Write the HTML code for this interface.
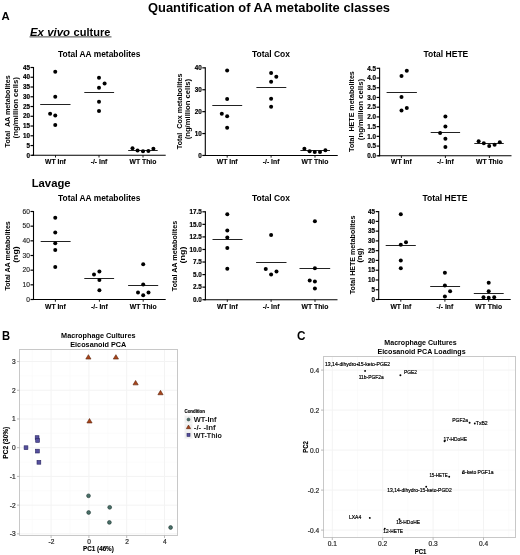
<!DOCTYPE html>
<html><head><meta charset="utf-8"><style>
html,body{margin:0;padding:0;background:#fff;}
svg{display:block;font-family:"Liberation Sans", sans-serif;will-change:transform;}
</style></head><body>
<svg width="520" height="555" viewBox="0 0 520 555">
<rect width="520" height="555" fill="#fff"/>
<text x="148.00" y="12.40" font-size="13" text-anchor="start" font-weight="bold" fill="#000" textLength="242.00" lengthAdjust="spacingAndGlyphs" >Quantification of AA metabolite classes</text>
<text x="1.60" y="19.85" font-size="11.5" text-anchor="start" font-weight="bold" fill="#000" textLength="8.20" lengthAdjust="spacingAndGlyphs" >A</text>
<text x="30.00" y="36.20" font-size="11" text-anchor="start" font-weight="bold" fill="#000" font-style="italic" textLength="40.00" lengthAdjust="spacingAndGlyphs" >Ex vivo</text>
<text x="73.60" y="36.20" font-size="11" text-anchor="start" font-weight="bold" fill="#000" textLength="36.80" lengthAdjust="spacingAndGlyphs" >culture</text>
<line x1="29.50" y1="36.90" x2="111.50" y2="36.90" stroke="#333" stroke-width="0.9"/>
<text x="31.70" y="186.50" font-size="11.2" text-anchor="start" font-weight="bold" fill="#000" textLength="38.90" lengthAdjust="spacingAndGlyphs" >Lavage</text>
<line x1="33.50" y1="67.00" x2="33.50" y2="155.80" stroke="#000" stroke-width="1.1"/>
<line x1="32.00" y1="155.30" x2="165.70" y2="155.30" stroke="#000" stroke-width="1.1"/>
<line x1="30.50" y1="155.30" x2="33.50" y2="155.30" stroke="#000" stroke-width="1.2"/>
<text x="29.90" y="157.50" font-size="6.3" text-anchor="end" font-weight="bold" fill="#000" stroke="#000" stroke-width="0.2">0</text>
<line x1="30.50" y1="145.54" x2="33.50" y2="145.54" stroke="#000" stroke-width="1.2"/>
<text x="29.90" y="147.74" font-size="6.3" text-anchor="end" font-weight="bold" fill="#000" stroke="#000" stroke-width="0.2">5</text>
<line x1="30.50" y1="135.79" x2="33.50" y2="135.79" stroke="#000" stroke-width="1.2"/>
<text x="29.90" y="137.99" font-size="6.3" text-anchor="end" font-weight="bold" fill="#000" stroke="#000" stroke-width="0.2">10</text>
<line x1="30.50" y1="126.03" x2="33.50" y2="126.03" stroke="#000" stroke-width="1.2"/>
<text x="29.90" y="128.23" font-size="6.3" text-anchor="end" font-weight="bold" fill="#000" stroke="#000" stroke-width="0.2">15</text>
<line x1="30.50" y1="116.28" x2="33.50" y2="116.28" stroke="#000" stroke-width="1.2"/>
<text x="29.90" y="118.48" font-size="6.3" text-anchor="end" font-weight="bold" fill="#000" stroke="#000" stroke-width="0.2">20</text>
<line x1="30.50" y1="106.52" x2="33.50" y2="106.52" stroke="#000" stroke-width="1.2"/>
<text x="29.90" y="108.72" font-size="6.3" text-anchor="end" font-weight="bold" fill="#000" stroke="#000" stroke-width="0.2">25</text>
<line x1="30.50" y1="96.77" x2="33.50" y2="96.77" stroke="#000" stroke-width="1.2"/>
<text x="29.90" y="98.97" font-size="6.3" text-anchor="end" font-weight="bold" fill="#000" stroke="#000" stroke-width="0.2">30</text>
<line x1="30.50" y1="87.01" x2="33.50" y2="87.01" stroke="#000" stroke-width="1.2"/>
<text x="29.90" y="89.21" font-size="6.3" text-anchor="end" font-weight="bold" fill="#000" stroke="#000" stroke-width="0.2">35</text>
<line x1="30.50" y1="77.26" x2="33.50" y2="77.26" stroke="#000" stroke-width="1.2"/>
<text x="29.90" y="79.46" font-size="6.3" text-anchor="end" font-weight="bold" fill="#000" stroke="#000" stroke-width="0.2">40</text>
<line x1="30.50" y1="67.50" x2="33.50" y2="67.50" stroke="#000" stroke-width="1.2"/>
<text x="29.90" y="69.70" font-size="6.3" text-anchor="end" font-weight="bold" fill="#000" stroke="#000" stroke-width="0.2">45</text>
<line x1="55.50" y1="155.30" x2="55.50" y2="157.50" stroke="#000" stroke-width="0.9"/>
<text x="55.50" y="164.00" font-size="6.8" text-anchor="middle" font-weight="bold" fill="#000" stroke="#000" stroke-width="0.12">WT Inf</text>
<line x1="99.00" y1="155.30" x2="99.00" y2="157.50" stroke="#000" stroke-width="0.9"/>
<text x="99.00" y="164.00" font-size="6.8" text-anchor="middle" font-weight="bold" fill="#000" stroke="#000" stroke-width="0.12">-/- Inf</text>
<line x1="143.00" y1="155.30" x2="143.00" y2="157.50" stroke="#000" stroke-width="0.9"/>
<text x="143.00" y="164.00" font-size="6.8" text-anchor="middle" font-weight="bold" fill="#000" stroke="#000" stroke-width="0.12">WT Thio</text>
<line x1="40.20" y1="104.50" x2="70.50" y2="104.50" stroke="#222" stroke-width="1"/>
<circle cx="55.25" cy="71.80" r="2.0" fill="#000" stroke="none" stroke-width="0"/>
<circle cx="55.25" cy="96.70" r="2.0" fill="#000" stroke="none" stroke-width="0"/>
<circle cx="50.10" cy="113.65" r="2.0" fill="#000" stroke="none" stroke-width="0"/>
<circle cx="55.25" cy="115.40" r="2.0" fill="#000" stroke="none" stroke-width="0"/>
<circle cx="55.25" cy="125.10" r="2.0" fill="#000" stroke="none" stroke-width="0"/>
<line x1="84.30" y1="92.50" x2="114.10" y2="92.50" stroke="#222" stroke-width="1"/>
<circle cx="99.00" cy="77.80" r="2.0" fill="#000" stroke="none" stroke-width="0"/>
<circle cx="104.60" cy="83.40" r="2.0" fill="#000" stroke="none" stroke-width="0"/>
<circle cx="99.00" cy="87.70" r="2.0" fill="#000" stroke="none" stroke-width="0"/>
<circle cx="99.00" cy="101.70" r="2.0" fill="#000" stroke="none" stroke-width="0"/>
<circle cx="99.00" cy="111.05" r="2.0" fill="#000" stroke="none" stroke-width="0"/>
<line x1="128.20" y1="150.50" x2="157.70" y2="150.50" stroke="#222" stroke-width="1"/>
<circle cx="132.50" cy="148.30" r="2.0" fill="#000" stroke="none" stroke-width="0"/>
<circle cx="137.55" cy="150.50" r="2.0" fill="#000" stroke="none" stroke-width="0"/>
<circle cx="143.00" cy="151.30" r="2.0" fill="#000" stroke="none" stroke-width="0"/>
<circle cx="148.40" cy="150.90" r="2.0" fill="#000" stroke="none" stroke-width="0"/>
<circle cx="153.40" cy="148.75" r="2.0" fill="#000" stroke="none" stroke-width="0"/>
<text x="99.25" y="57.30" font-size="8.4" text-anchor="middle" font-weight="bold" fill="#000" textLength="82.30" lengthAdjust="spacingAndGlyphs" >Total AA metabolites</text>
<text x="10.20" y="111.35" font-size="8.0" text-anchor="middle" font-weight="bold" fill="#000" textLength="72.10" lengthAdjust="spacingAndGlyphs" transform="rotate(-90 10.20 111.35)" >Total&#160; AA metabolites</text>
<text x="18.00" y="107.75" font-size="7.6" text-anchor="middle" font-weight="bold" fill="#000" textLength="61.30" lengthAdjust="spacingAndGlyphs" transform="rotate(-90 18.00 107.75)" >(ng/million cells)</text>
<line x1="205.30" y1="67.35" x2="205.30" y2="155.95" stroke="#000" stroke-width="1.1"/>
<line x1="203.80" y1="155.45" x2="337.75" y2="155.45" stroke="#000" stroke-width="1.1"/>
<line x1="202.30" y1="155.45" x2="205.30" y2="155.45" stroke="#000" stroke-width="1.2"/>
<text x="201.70" y="157.65" font-size="6.3" text-anchor="end" font-weight="bold" fill="#000" stroke="#000" stroke-width="0.2">0</text>
<line x1="202.30" y1="133.55" x2="205.30" y2="133.55" stroke="#000" stroke-width="1.2"/>
<text x="201.70" y="135.75" font-size="6.3" text-anchor="end" font-weight="bold" fill="#000" stroke="#000" stroke-width="0.2">10</text>
<line x1="202.30" y1="111.65" x2="205.30" y2="111.65" stroke="#000" stroke-width="1.2"/>
<text x="201.70" y="113.85" font-size="6.3" text-anchor="end" font-weight="bold" fill="#000" stroke="#000" stroke-width="0.2">20</text>
<line x1="202.30" y1="89.75" x2="205.30" y2="89.75" stroke="#000" stroke-width="1.2"/>
<text x="201.70" y="91.95" font-size="6.3" text-anchor="end" font-weight="bold" fill="#000" stroke="#000" stroke-width="0.2">30</text>
<line x1="202.30" y1="67.85" x2="205.30" y2="67.85" stroke="#000" stroke-width="1.2"/>
<text x="201.70" y="70.05" font-size="6.3" text-anchor="end" font-weight="bold" fill="#000" stroke="#000" stroke-width="0.2">40</text>
<line x1="227.20" y1="155.45" x2="227.20" y2="157.65" stroke="#000" stroke-width="0.9"/>
<text x="227.20" y="164.00" font-size="6.8" text-anchor="middle" font-weight="bold" fill="#000" stroke="#000" stroke-width="0.12">WT Inf</text>
<line x1="271.10" y1="155.45" x2="271.10" y2="157.65" stroke="#000" stroke-width="0.9"/>
<text x="271.10" y="164.00" font-size="6.8" text-anchor="middle" font-weight="bold" fill="#000" stroke="#000" stroke-width="0.12">-/- Inf</text>
<line x1="315.00" y1="155.45" x2="315.00" y2="157.65" stroke="#000" stroke-width="0.9"/>
<text x="315.00" y="164.00" font-size="6.8" text-anchor="middle" font-weight="bold" fill="#000" stroke="#000" stroke-width="0.12">WT Thio</text>
<line x1="212.30" y1="105.50" x2="242.20" y2="105.50" stroke="#222" stroke-width="1"/>
<circle cx="227.15" cy="70.40" r="2.0" fill="#000" stroke="none" stroke-width="0"/>
<circle cx="227.15" cy="98.90" r="2.0" fill="#000" stroke="none" stroke-width="0"/>
<circle cx="221.80" cy="113.80" r="2.0" fill="#000" stroke="none" stroke-width="0"/>
<circle cx="227.15" cy="116.25" r="2.0" fill="#000" stroke="none" stroke-width="0"/>
<circle cx="227.15" cy="127.80" r="2.0" fill="#000" stroke="none" stroke-width="0"/>
<line x1="256.40" y1="87.50" x2="286.30" y2="87.50" stroke="#222" stroke-width="1"/>
<circle cx="271.10" cy="73.00" r="2.0" fill="#000" stroke="none" stroke-width="0"/>
<circle cx="276.30" cy="76.80" r="2.0" fill="#000" stroke="none" stroke-width="0"/>
<circle cx="271.10" cy="81.80" r="2.0" fill="#000" stroke="none" stroke-width="0"/>
<circle cx="271.10" cy="98.80" r="2.0" fill="#000" stroke="none" stroke-width="0"/>
<circle cx="271.10" cy="106.70" r="2.0" fill="#000" stroke="none" stroke-width="0"/>
<line x1="300.40" y1="150.50" x2="330.00" y2="150.50" stroke="#222" stroke-width="1"/>
<circle cx="304.40" cy="148.75" r="2.0" fill="#000" stroke="none" stroke-width="0"/>
<circle cx="309.60" cy="151.25" r="2.0" fill="#000" stroke="none" stroke-width="0"/>
<circle cx="314.75" cy="152.10" r="2.0" fill="#000" stroke="none" stroke-width="0"/>
<circle cx="320.00" cy="151.90" r="2.0" fill="#000" stroke="none" stroke-width="0"/>
<circle cx="325.40" cy="150.25" r="2.0" fill="#000" stroke="none" stroke-width="0"/>
<text x="270.95" y="57.30" font-size="8.4" text-anchor="middle" font-weight="bold" fill="#000" textLength="38.10" lengthAdjust="spacingAndGlyphs" >Total Cox</text>
<text x="182.40" y="111.35" font-size="8.0" text-anchor="middle" font-weight="bold" fill="#000" textLength="75.70" lengthAdjust="spacingAndGlyphs" transform="rotate(-90 182.40 111.35)" >Total&#160; Cox metabolites</text>
<text x="190.00" y="109.10" font-size="7.6" text-anchor="middle" font-weight="bold" fill="#000" textLength="60.40" lengthAdjust="spacingAndGlyphs" transform="rotate(-90 190.00 109.10)" >(ng/million cells)</text>
<line x1="379.60" y1="67.80" x2="379.60" y2="156.30" stroke="#000" stroke-width="1.1"/>
<line x1="378.10" y1="155.80" x2="511.50" y2="155.80" stroke="#000" stroke-width="1.1"/>
<line x1="376.60" y1="155.80" x2="379.60" y2="155.80" stroke="#000" stroke-width="1.2"/>
<text x="376.00" y="158.00" font-size="6.3" text-anchor="end" font-weight="bold" fill="#000" stroke="#000" stroke-width="0.2">0.0</text>
<line x1="376.60" y1="146.08" x2="379.60" y2="146.08" stroke="#000" stroke-width="1.2"/>
<text x="376.00" y="148.28" font-size="6.3" text-anchor="end" font-weight="bold" fill="#000" stroke="#000" stroke-width="0.2">0.5</text>
<line x1="376.60" y1="136.36" x2="379.60" y2="136.36" stroke="#000" stroke-width="1.2"/>
<text x="376.00" y="138.56" font-size="6.3" text-anchor="end" font-weight="bold" fill="#000" stroke="#000" stroke-width="0.2">1.0</text>
<line x1="376.60" y1="126.63" x2="379.60" y2="126.63" stroke="#000" stroke-width="1.2"/>
<text x="376.00" y="128.83" font-size="6.3" text-anchor="end" font-weight="bold" fill="#000" stroke="#000" stroke-width="0.2">1.5</text>
<line x1="376.60" y1="116.91" x2="379.60" y2="116.91" stroke="#000" stroke-width="1.2"/>
<text x="376.00" y="119.11" font-size="6.3" text-anchor="end" font-weight="bold" fill="#000" stroke="#000" stroke-width="0.2">2.0</text>
<line x1="376.60" y1="107.19" x2="379.60" y2="107.19" stroke="#000" stroke-width="1.2"/>
<text x="376.00" y="109.39" font-size="6.3" text-anchor="end" font-weight="bold" fill="#000" stroke="#000" stroke-width="0.2">2.5</text>
<line x1="376.60" y1="97.47" x2="379.60" y2="97.47" stroke="#000" stroke-width="1.2"/>
<text x="376.00" y="99.67" font-size="6.3" text-anchor="end" font-weight="bold" fill="#000" stroke="#000" stroke-width="0.2">3.0</text>
<line x1="376.60" y1="87.74" x2="379.60" y2="87.74" stroke="#000" stroke-width="1.2"/>
<text x="376.00" y="89.94" font-size="6.3" text-anchor="end" font-weight="bold" fill="#000" stroke="#000" stroke-width="0.2">3.5</text>
<line x1="376.60" y1="78.02" x2="379.60" y2="78.02" stroke="#000" stroke-width="1.2"/>
<text x="376.00" y="80.22" font-size="6.3" text-anchor="end" font-weight="bold" fill="#000" stroke="#000" stroke-width="0.2">4.0</text>
<line x1="376.60" y1="68.30" x2="379.60" y2="68.30" stroke="#000" stroke-width="1.2"/>
<text x="376.00" y="70.50" font-size="6.3" text-anchor="end" font-weight="bold" fill="#000" stroke="#000" stroke-width="0.2">4.5</text>
<line x1="401.40" y1="155.80" x2="401.40" y2="158.00" stroke="#000" stroke-width="0.9"/>
<text x="401.40" y="164.00" font-size="6.8" text-anchor="middle" font-weight="bold" fill="#000" stroke="#000" stroke-width="0.12">WT Inf</text>
<line x1="445.40" y1="155.80" x2="445.40" y2="158.00" stroke="#000" stroke-width="0.9"/>
<text x="445.40" y="164.00" font-size="6.8" text-anchor="middle" font-weight="bold" fill="#000" stroke="#000" stroke-width="0.12">-/- Inf</text>
<line x1="489.40" y1="155.80" x2="489.40" y2="158.00" stroke="#000" stroke-width="0.9"/>
<text x="489.40" y="164.00" font-size="6.8" text-anchor="middle" font-weight="bold" fill="#000" stroke="#000" stroke-width="0.12">WT Thio</text>
<line x1="386.60" y1="92.50" x2="416.90" y2="92.50" stroke="#222" stroke-width="1"/>
<circle cx="406.80" cy="70.70" r="2.0" fill="#000" stroke="none" stroke-width="0"/>
<circle cx="401.50" cy="76.10" r="2.0" fill="#000" stroke="none" stroke-width="0"/>
<circle cx="401.50" cy="96.90" r="2.0" fill="#000" stroke="none" stroke-width="0"/>
<circle cx="406.80" cy="108.10" r="2.0" fill="#000" stroke="none" stroke-width="0"/>
<circle cx="401.50" cy="110.50" r="2.0" fill="#000" stroke="none" stroke-width="0"/>
<line x1="430.70" y1="132.50" x2="460.10" y2="132.50" stroke="#222" stroke-width="1"/>
<circle cx="445.40" cy="116.60" r="2.0" fill="#000" stroke="none" stroke-width="0"/>
<circle cx="445.40" cy="126.40" r="2.0" fill="#000" stroke="none" stroke-width="0"/>
<circle cx="440.10" cy="133.00" r="2.0" fill="#000" stroke="none" stroke-width="0"/>
<circle cx="445.40" cy="138.70" r="2.0" fill="#000" stroke="none" stroke-width="0"/>
<circle cx="445.40" cy="146.90" r="2.0" fill="#000" stroke="none" stroke-width="0"/>
<line x1="474.30" y1="143.50" x2="503.75" y2="143.50" stroke="#222" stroke-width="1"/>
<circle cx="478.65" cy="141.20" r="2.0" fill="#000" stroke="none" stroke-width="0"/>
<circle cx="483.80" cy="143.20" r="2.0" fill="#000" stroke="none" stroke-width="0"/>
<circle cx="489.20" cy="146.00" r="2.0" fill="#000" stroke="none" stroke-width="0"/>
<circle cx="494.60" cy="144.80" r="2.0" fill="#000" stroke="none" stroke-width="0"/>
<circle cx="499.80" cy="142.20" r="2.0" fill="#000" stroke="none" stroke-width="0"/>
<text x="445.90" y="57.30" font-size="8.4" text-anchor="middle" font-weight="bold" fill="#000" textLength="44.80" lengthAdjust="spacingAndGlyphs" >Total HETE</text>
<text x="354.40" y="111.55" font-size="8.0" text-anchor="middle" font-weight="bold" fill="#000" textLength="80.70" lengthAdjust="spacingAndGlyphs" transform="rotate(-90 354.40 111.55)" >Total&#160; HETE metabolites</text>
<text x="363.00" y="109.55" font-size="7.6" text-anchor="middle" font-weight="bold" fill="#000" textLength="61.30" lengthAdjust="spacingAndGlyphs" transform="rotate(-90 363.00 109.55)" >(ng/million cells)</text>
<line x1="33.50" y1="211.00" x2="33.50" y2="300.00" stroke="#000" stroke-width="1.1"/>
<line x1="32.00" y1="299.50" x2="165.70" y2="299.50" stroke="#000" stroke-width="1.1"/>
<line x1="30.50" y1="299.50" x2="33.50" y2="299.50" stroke="#000" stroke-width="1.2"/>
<text x="29.90" y="301.80" font-size="6.6" text-anchor="end" font-weight="normal" fill="#222" stroke="#222" stroke-width="0.15">0</text>
<line x1="30.50" y1="284.83" x2="33.50" y2="284.83" stroke="#000" stroke-width="1.2"/>
<text x="29.90" y="287.13" font-size="6.6" text-anchor="end" font-weight="normal" fill="#222" stroke="#222" stroke-width="0.15">10</text>
<line x1="30.50" y1="270.17" x2="33.50" y2="270.17" stroke="#000" stroke-width="1.2"/>
<text x="29.90" y="272.47" font-size="6.6" text-anchor="end" font-weight="normal" fill="#222" stroke="#222" stroke-width="0.15">20</text>
<line x1="30.50" y1="255.50" x2="33.50" y2="255.50" stroke="#000" stroke-width="1.2"/>
<text x="29.90" y="257.80" font-size="6.6" text-anchor="end" font-weight="normal" fill="#222" stroke="#222" stroke-width="0.15">30</text>
<line x1="30.50" y1="240.83" x2="33.50" y2="240.83" stroke="#000" stroke-width="1.2"/>
<text x="29.90" y="243.13" font-size="6.6" text-anchor="end" font-weight="normal" fill="#222" stroke="#222" stroke-width="0.15">40</text>
<line x1="30.50" y1="226.17" x2="33.50" y2="226.17" stroke="#000" stroke-width="1.2"/>
<text x="29.90" y="228.47" font-size="6.6" text-anchor="end" font-weight="normal" fill="#222" stroke="#222" stroke-width="0.15">50</text>
<line x1="30.50" y1="211.50" x2="33.50" y2="211.50" stroke="#000" stroke-width="1.2"/>
<text x="29.90" y="213.80" font-size="6.6" text-anchor="end" font-weight="normal" fill="#222" stroke="#222" stroke-width="0.15">60</text>
<line x1="55.40" y1="299.50" x2="55.40" y2="301.70" stroke="#000" stroke-width="0.9"/>
<text x="55.40" y="308.60" font-size="6.8" text-anchor="middle" font-weight="bold" fill="#000" stroke="#000" stroke-width="0.12">WT Inf</text>
<line x1="99.40" y1="299.50" x2="99.40" y2="301.70" stroke="#000" stroke-width="0.9"/>
<text x="99.40" y="308.60" font-size="6.8" text-anchor="middle" font-weight="bold" fill="#000" stroke="#000" stroke-width="0.12">-/- Inf</text>
<line x1="143.20" y1="299.50" x2="143.20" y2="301.70" stroke="#000" stroke-width="0.9"/>
<text x="143.20" y="308.60" font-size="6.8" text-anchor="middle" font-weight="bold" fill="#000" stroke="#000" stroke-width="0.12">WT Thio</text>
<line x1="40.70" y1="241.50" x2="70.60" y2="241.50" stroke="#222" stroke-width="1"/>
<circle cx="55.25" cy="217.65" r="2.0" fill="#000" stroke="none" stroke-width="0"/>
<circle cx="55.25" cy="232.45" r="2.0" fill="#000" stroke="none" stroke-width="0"/>
<circle cx="55.25" cy="243.35" r="2.0" fill="#000" stroke="none" stroke-width="0"/>
<circle cx="55.25" cy="250.10" r="2.0" fill="#000" stroke="none" stroke-width="0"/>
<circle cx="55.25" cy="267.00" r="2.0" fill="#000" stroke="none" stroke-width="0"/>
<line x1="84.30" y1="278.50" x2="114.10" y2="278.50" stroke="#222" stroke-width="1"/>
<circle cx="99.40" cy="271.60" r="2.0" fill="#000" stroke="none" stroke-width="0"/>
<circle cx="94.00" cy="274.60" r="2.0" fill="#000" stroke="none" stroke-width="0"/>
<circle cx="99.40" cy="280.10" r="2.0" fill="#000" stroke="none" stroke-width="0"/>
<circle cx="99.40" cy="290.30" r="2.0" fill="#000" stroke="none" stroke-width="0"/>
<line x1="128.10" y1="285.50" x2="158.20" y2="285.50" stroke="#222" stroke-width="1"/>
<circle cx="143.20" cy="264.20" r="2.0" fill="#000" stroke="none" stroke-width="0"/>
<circle cx="143.20" cy="284.40" r="2.0" fill="#000" stroke="none" stroke-width="0"/>
<circle cx="138.00" cy="292.40" r="2.0" fill="#000" stroke="none" stroke-width="0"/>
<circle cx="148.50" cy="292.40" r="2.0" fill="#000" stroke="none" stroke-width="0"/>
<circle cx="143.20" cy="295.30" r="2.0" fill="#000" stroke="none" stroke-width="0"/>
<text x="99.25" y="201.30" font-size="8.4" text-anchor="middle" font-weight="bold" fill="#000" textLength="82.30" lengthAdjust="spacingAndGlyphs" >Total AA metabolites</text>
<text x="9.80" y="255.90" font-size="8.0" text-anchor="middle" font-weight="bold" fill="#000" textLength="69.40" lengthAdjust="spacingAndGlyphs" transform="rotate(-90 9.80 255.90)" >Total AA metabolites</text>
<text x="17.70" y="254.60" font-size="7.6" text-anchor="middle" font-weight="bold" fill="#000" textLength="16.30" lengthAdjust="spacingAndGlyphs" transform="rotate(-90 17.70 254.60)" >(ng)</text>
<line x1="205.40" y1="211.30" x2="205.40" y2="300.20" stroke="#000" stroke-width="1.1"/>
<line x1="203.90" y1="299.70" x2="337.50" y2="299.70" stroke="#000" stroke-width="1.1"/>
<line x1="202.40" y1="299.70" x2="205.40" y2="299.70" stroke="#000" stroke-width="1.2"/>
<text x="201.80" y="301.90" font-size="6.3" text-anchor="end" font-weight="bold" fill="#000" stroke="#000" stroke-width="0.2">0.0</text>
<line x1="202.40" y1="287.14" x2="205.40" y2="287.14" stroke="#000" stroke-width="1.2"/>
<text x="201.80" y="289.34" font-size="6.3" text-anchor="end" font-weight="bold" fill="#000" stroke="#000" stroke-width="0.2">2.5</text>
<line x1="202.40" y1="274.59" x2="205.40" y2="274.59" stroke="#000" stroke-width="1.2"/>
<text x="201.80" y="276.79" font-size="6.3" text-anchor="end" font-weight="bold" fill="#000" stroke="#000" stroke-width="0.2">5.0</text>
<line x1="202.40" y1="262.03" x2="205.40" y2="262.03" stroke="#000" stroke-width="1.2"/>
<text x="201.80" y="264.23" font-size="6.3" text-anchor="end" font-weight="bold" fill="#000" stroke="#000" stroke-width="0.2">7.5</text>
<line x1="202.40" y1="249.47" x2="205.40" y2="249.47" stroke="#000" stroke-width="1.2"/>
<text x="201.80" y="251.67" font-size="6.3" text-anchor="end" font-weight="bold" fill="#000" stroke="#000" stroke-width="0.2">10.0</text>
<line x1="202.40" y1="236.91" x2="205.40" y2="236.91" stroke="#000" stroke-width="1.2"/>
<text x="201.80" y="239.11" font-size="6.3" text-anchor="end" font-weight="bold" fill="#000" stroke="#000" stroke-width="0.2">12.5</text>
<line x1="202.40" y1="224.36" x2="205.40" y2="224.36" stroke="#000" stroke-width="1.2"/>
<text x="201.80" y="226.56" font-size="6.3" text-anchor="end" font-weight="bold" fill="#000" stroke="#000" stroke-width="0.2">15.0</text>
<line x1="202.40" y1="211.80" x2="205.40" y2="211.80" stroke="#000" stroke-width="1.2"/>
<text x="201.80" y="214.00" font-size="6.3" text-anchor="end" font-weight="bold" fill="#000" stroke="#000" stroke-width="0.2">17.5</text>
<line x1="227.30" y1="299.70" x2="227.30" y2="301.90" stroke="#000" stroke-width="0.9"/>
<text x="227.30" y="308.60" font-size="6.8" text-anchor="middle" font-weight="bold" fill="#000" stroke="#000" stroke-width="0.12">WT Inf</text>
<line x1="271.10" y1="299.70" x2="271.10" y2="301.90" stroke="#000" stroke-width="0.9"/>
<text x="271.10" y="308.60" font-size="6.8" text-anchor="middle" font-weight="bold" fill="#000" stroke="#000" stroke-width="0.12">-/- Inf</text>
<line x1="315.00" y1="299.70" x2="315.00" y2="301.90" stroke="#000" stroke-width="0.9"/>
<text x="315.00" y="308.60" font-size="6.8" text-anchor="middle" font-weight="bold" fill="#000" stroke="#000" stroke-width="0.12">WT Thio</text>
<line x1="212.50" y1="239.50" x2="242.50" y2="239.50" stroke="#222" stroke-width="1"/>
<circle cx="227.30" cy="214.20" r="2.0" fill="#000" stroke="none" stroke-width="0"/>
<circle cx="227.30" cy="230.60" r="2.0" fill="#000" stroke="none" stroke-width="0"/>
<circle cx="227.30" cy="237.40" r="2.0" fill="#000" stroke="none" stroke-width="0"/>
<circle cx="227.30" cy="248.00" r="2.0" fill="#000" stroke="none" stroke-width="0"/>
<circle cx="227.30" cy="268.80" r="2.0" fill="#000" stroke="none" stroke-width="0"/>
<line x1="256.10" y1="262.50" x2="286.50" y2="262.50" stroke="#222" stroke-width="1"/>
<circle cx="271.10" cy="234.90" r="2.0" fill="#000" stroke="none" stroke-width="0"/>
<circle cx="265.75" cy="269.00" r="2.0" fill="#000" stroke="none" stroke-width="0"/>
<circle cx="276.50" cy="271.60" r="2.0" fill="#000" stroke="none" stroke-width="0"/>
<circle cx="271.10" cy="274.40" r="2.0" fill="#000" stroke="none" stroke-width="0"/>
<line x1="299.50" y1="268.50" x2="330.20" y2="268.50" stroke="#222" stroke-width="1"/>
<circle cx="314.90" cy="221.25" r="2.0" fill="#000" stroke="none" stroke-width="0"/>
<circle cx="314.90" cy="268.15" r="2.0" fill="#000" stroke="none" stroke-width="0"/>
<circle cx="309.70" cy="280.60" r="2.0" fill="#000" stroke="none" stroke-width="0"/>
<circle cx="314.90" cy="281.50" r="2.0" fill="#000" stroke="none" stroke-width="0"/>
<circle cx="314.90" cy="288.40" r="2.0" fill="#000" stroke="none" stroke-width="0"/>
<text x="271.00" y="201.30" font-size="8.4" text-anchor="middle" font-weight="bold" fill="#000" textLength="38.00" lengthAdjust="spacingAndGlyphs" >Total Cox</text>
<text x="177.40" y="256.00" font-size="8.0" text-anchor="middle" font-weight="bold" fill="#000" textLength="70.40" lengthAdjust="spacingAndGlyphs" transform="rotate(-90 177.40 256.00)" >Total AA metabolites</text>
<text x="184.50" y="255.00" font-size="7.6" text-anchor="middle" font-weight="bold" fill="#000" textLength="16.80" lengthAdjust="spacingAndGlyphs" transform="rotate(-90 184.50 255.00)" >(ng)</text>
<line x1="378.70" y1="211.10" x2="378.70" y2="300.00" stroke="#000" stroke-width="1.1"/>
<line x1="377.20" y1="299.50" x2="510.70" y2="299.50" stroke="#000" stroke-width="1.1"/>
<line x1="375.70" y1="299.50" x2="378.70" y2="299.50" stroke="#000" stroke-width="1.2"/>
<text x="375.10" y="301.70" font-size="6.3" text-anchor="end" font-weight="bold" fill="#000" stroke="#000" stroke-width="0.2">0</text>
<line x1="375.70" y1="289.73" x2="378.70" y2="289.73" stroke="#000" stroke-width="1.2"/>
<text x="375.10" y="291.93" font-size="6.3" text-anchor="end" font-weight="bold" fill="#000" stroke="#000" stroke-width="0.2">5</text>
<line x1="375.70" y1="279.97" x2="378.70" y2="279.97" stroke="#000" stroke-width="1.2"/>
<text x="375.10" y="282.17" font-size="6.3" text-anchor="end" font-weight="bold" fill="#000" stroke="#000" stroke-width="0.2">10</text>
<line x1="375.70" y1="270.20" x2="378.70" y2="270.20" stroke="#000" stroke-width="1.2"/>
<text x="375.10" y="272.40" font-size="6.3" text-anchor="end" font-weight="bold" fill="#000" stroke="#000" stroke-width="0.2">15</text>
<line x1="375.70" y1="260.43" x2="378.70" y2="260.43" stroke="#000" stroke-width="1.2"/>
<text x="375.10" y="262.63" font-size="6.3" text-anchor="end" font-weight="bold" fill="#000" stroke="#000" stroke-width="0.2">20</text>
<line x1="375.70" y1="250.67" x2="378.70" y2="250.67" stroke="#000" stroke-width="1.2"/>
<text x="375.10" y="252.87" font-size="6.3" text-anchor="end" font-weight="bold" fill="#000" stroke="#000" stroke-width="0.2">25</text>
<line x1="375.70" y1="240.90" x2="378.70" y2="240.90" stroke="#000" stroke-width="1.2"/>
<text x="375.10" y="243.10" font-size="6.3" text-anchor="end" font-weight="bold" fill="#000" stroke="#000" stroke-width="0.2">30</text>
<line x1="375.70" y1="231.13" x2="378.70" y2="231.13" stroke="#000" stroke-width="1.2"/>
<text x="375.10" y="233.33" font-size="6.3" text-anchor="end" font-weight="bold" fill="#000" stroke="#000" stroke-width="0.2">35</text>
<line x1="375.70" y1="221.37" x2="378.70" y2="221.37" stroke="#000" stroke-width="1.2"/>
<text x="375.10" y="223.57" font-size="6.3" text-anchor="end" font-weight="bold" fill="#000" stroke="#000" stroke-width="0.2">40</text>
<line x1="375.70" y1="211.60" x2="378.70" y2="211.60" stroke="#000" stroke-width="1.2"/>
<text x="375.10" y="213.80" font-size="6.3" text-anchor="end" font-weight="bold" fill="#000" stroke="#000" stroke-width="0.2">45</text>
<line x1="400.80" y1="299.50" x2="400.80" y2="301.70" stroke="#000" stroke-width="0.9"/>
<text x="400.80" y="308.60" font-size="6.8" text-anchor="middle" font-weight="bold" fill="#000" stroke="#000" stroke-width="0.12">WT Inf</text>
<line x1="444.90" y1="299.50" x2="444.90" y2="301.70" stroke="#000" stroke-width="0.9"/>
<text x="444.90" y="308.60" font-size="6.8" text-anchor="middle" font-weight="bold" fill="#000" stroke="#000" stroke-width="0.12">-/- Inf</text>
<line x1="488.70" y1="299.50" x2="488.70" y2="301.70" stroke="#000" stroke-width="0.9"/>
<text x="488.70" y="308.60" font-size="6.8" text-anchor="middle" font-weight="bold" fill="#000" stroke="#000" stroke-width="0.12">WT Thio</text>
<line x1="385.70" y1="245.50" x2="415.80" y2="245.50" stroke="#222" stroke-width="1"/>
<circle cx="400.80" cy="214.30" r="2.0" fill="#000" stroke="none" stroke-width="0"/>
<circle cx="406.00" cy="242.30" r="2.0" fill="#000" stroke="none" stroke-width="0"/>
<circle cx="400.80" cy="244.65" r="2.0" fill="#000" stroke="none" stroke-width="0"/>
<circle cx="400.80" cy="260.50" r="2.0" fill="#000" stroke="none" stroke-width="0"/>
<circle cx="400.80" cy="268.30" r="2.0" fill="#000" stroke="none" stroke-width="0"/>
<line x1="430.20" y1="286.50" x2="460.10" y2="286.50" stroke="#222" stroke-width="1"/>
<circle cx="444.90" cy="272.80" r="2.0" fill="#000" stroke="none" stroke-width="0"/>
<circle cx="444.90" cy="285.40" r="2.0" fill="#000" stroke="none" stroke-width="0"/>
<circle cx="450.10" cy="291.30" r="2.0" fill="#000" stroke="none" stroke-width="0"/>
<circle cx="444.90" cy="296.50" r="2.0" fill="#000" stroke="none" stroke-width="0"/>
<line x1="473.80" y1="293.50" x2="503.70" y2="293.50" stroke="#222" stroke-width="1"/>
<circle cx="488.70" cy="282.70" r="2.0" fill="#000" stroke="none" stroke-width="0"/>
<circle cx="488.70" cy="291.30" r="2.0" fill="#000" stroke="none" stroke-width="0"/>
<circle cx="483.50" cy="297.20" r="2.0" fill="#000" stroke="none" stroke-width="0"/>
<circle cx="488.70" cy="297.70" r="2.0" fill="#000" stroke="none" stroke-width="0"/>
<circle cx="494.20" cy="297.20" r="2.0" fill="#000" stroke="none" stroke-width="0"/>
<text x="444.90" y="201.30" font-size="8.4" text-anchor="middle" font-weight="bold" fill="#000" textLength="45.00" lengthAdjust="spacingAndGlyphs" >Total HETE</text>
<text x="354.80" y="254.85" font-size="8.0" text-anchor="middle" font-weight="bold" fill="#000" textLength="78.70" lengthAdjust="spacingAndGlyphs" transform="rotate(-90 354.80 254.85)" >Total HETE metabolites</text>
<text x="362.50" y="255.30" font-size="7.6" text-anchor="middle" font-weight="bold" fill="#000" textLength="14.20" lengthAdjust="spacingAndGlyphs" transform="rotate(-90 362.50 255.30)" >(ng)</text>
<text x="1.90" y="339.60" font-size="12.2" text-anchor="start" font-weight="bold" fill="#000" textLength="8.10" lengthAdjust="spacingAndGlyphs" >B</text>
<line x1="32.20" y1="349.50" x2="32.20" y2="535.50" stroke="#f9f9f9" stroke-width="0.6"/>
<line x1="70.00" y1="349.50" x2="70.00" y2="535.50" stroke="#f9f9f9" stroke-width="0.6"/>
<line x1="107.80" y1="349.50" x2="107.80" y2="535.50" stroke="#f9f9f9" stroke-width="0.6"/>
<line x1="145.60" y1="349.50" x2="145.60" y2="535.50" stroke="#f9f9f9" stroke-width="0.6"/>
<line x1="19.50" y1="519.50" x2="177.50" y2="519.50" stroke="#f9f9f9" stroke-width="0.6"/>
<line x1="19.50" y1="490.78" x2="177.50" y2="490.78" stroke="#f9f9f9" stroke-width="0.6"/>
<line x1="19.50" y1="462.06" x2="177.50" y2="462.06" stroke="#f9f9f9" stroke-width="0.6"/>
<line x1="19.50" y1="433.34" x2="177.50" y2="433.34" stroke="#f9f9f9" stroke-width="0.6"/>
<line x1="19.50" y1="404.62" x2="177.50" y2="404.62" stroke="#f9f9f9" stroke-width="0.6"/>
<line x1="19.50" y1="375.90" x2="177.50" y2="375.90" stroke="#f9f9f9" stroke-width="0.6"/>
<line x1="51.10" y1="349.50" x2="51.10" y2="535.50" stroke="#f3f3f3" stroke-width="1"/>
<line x1="88.90" y1="349.50" x2="88.90" y2="535.50" stroke="#f3f3f3" stroke-width="1"/>
<line x1="126.70" y1="349.50" x2="126.70" y2="535.50" stroke="#f3f3f3" stroke-width="1"/>
<line x1="164.50" y1="349.50" x2="164.50" y2="535.50" stroke="#f3f3f3" stroke-width="1"/>
<line x1="19.50" y1="533.86" x2="177.50" y2="533.86" stroke="#f3f3f3" stroke-width="1"/>
<line x1="19.50" y1="505.14" x2="177.50" y2="505.14" stroke="#f3f3f3" stroke-width="1"/>
<line x1="19.50" y1="476.42" x2="177.50" y2="476.42" stroke="#f3f3f3" stroke-width="1"/>
<line x1="19.50" y1="447.70" x2="177.50" y2="447.70" stroke="#f3f3f3" stroke-width="1"/>
<line x1="19.50" y1="418.98" x2="177.50" y2="418.98" stroke="#f3f3f3" stroke-width="1"/>
<line x1="19.50" y1="390.26" x2="177.50" y2="390.26" stroke="#f3f3f3" stroke-width="1"/>
<line x1="19.50" y1="361.54" x2="177.50" y2="361.54" stroke="#f3f3f3" stroke-width="1"/>
<rect x="19.5" y="349.5" width="158.0" height="186.0" fill="none" stroke="#c8c8c8" stroke-width="1"/>
<line x1="17.00" y1="533.86" x2="19.50" y2="533.86" stroke="#aaa" stroke-width="0.8"/>
<text x="15.60" y="536.26" font-size="6.6" text-anchor="end" font-weight="normal" fill="#2a2a2a" stroke="#2a2a2a" stroke-width="0.2">-3</text>
<line x1="17.00" y1="505.14" x2="19.50" y2="505.14" stroke="#aaa" stroke-width="0.8"/>
<text x="15.60" y="507.54" font-size="6.6" text-anchor="end" font-weight="normal" fill="#2a2a2a" stroke="#2a2a2a" stroke-width="0.2">-2</text>
<line x1="17.00" y1="476.42" x2="19.50" y2="476.42" stroke="#aaa" stroke-width="0.8"/>
<text x="15.60" y="478.82" font-size="6.6" text-anchor="end" font-weight="normal" fill="#2a2a2a" stroke="#2a2a2a" stroke-width="0.2">-1</text>
<line x1="17.00" y1="447.70" x2="19.50" y2="447.70" stroke="#aaa" stroke-width="0.8"/>
<text x="15.60" y="450.10" font-size="6.6" text-anchor="end" font-weight="normal" fill="#2a2a2a" stroke="#2a2a2a" stroke-width="0.2">0</text>
<line x1="17.00" y1="418.98" x2="19.50" y2="418.98" stroke="#aaa" stroke-width="0.8"/>
<text x="15.60" y="421.38" font-size="6.6" text-anchor="end" font-weight="normal" fill="#2a2a2a" stroke="#2a2a2a" stroke-width="0.2">1</text>
<line x1="17.00" y1="390.26" x2="19.50" y2="390.26" stroke="#aaa" stroke-width="0.8"/>
<text x="15.60" y="392.66" font-size="6.6" text-anchor="end" font-weight="normal" fill="#2a2a2a" stroke="#2a2a2a" stroke-width="0.2">2</text>
<line x1="17.00" y1="361.54" x2="19.50" y2="361.54" stroke="#aaa" stroke-width="0.8"/>
<text x="15.60" y="363.94" font-size="6.6" text-anchor="end" font-weight="normal" fill="#2a2a2a" stroke="#2a2a2a" stroke-width="0.2">3</text>
<line x1="51.10" y1="535.50" x2="51.10" y2="538.00" stroke="#aaa" stroke-width="0.8"/>
<text x="51.40" y="544.40" font-size="6.6" text-anchor="middle" font-weight="normal" fill="#2a2a2a" stroke="#2a2a2a" stroke-width="0.2">-2</text>
<line x1="88.90" y1="535.50" x2="88.90" y2="538.00" stroke="#aaa" stroke-width="0.8"/>
<text x="89.20" y="544.40" font-size="6.6" text-anchor="middle" font-weight="normal" fill="#2a2a2a" stroke="#2a2a2a" stroke-width="0.2">0</text>
<line x1="126.70" y1="535.50" x2="126.70" y2="538.00" stroke="#aaa" stroke-width="0.8"/>
<text x="127.00" y="544.40" font-size="6.6" text-anchor="middle" font-weight="normal" fill="#2a2a2a" stroke="#2a2a2a" stroke-width="0.2">2</text>
<line x1="164.50" y1="535.50" x2="164.50" y2="538.00" stroke="#aaa" stroke-width="0.8"/>
<text x="164.80" y="544.40" font-size="6.6" text-anchor="middle" font-weight="normal" fill="#2a2a2a" stroke="#2a2a2a" stroke-width="0.2">4</text>
<text x="98.45" y="550.80" font-size="6.8" text-anchor="middle" font-weight="bold" fill="#000" textLength="30.70" lengthAdjust="spacingAndGlyphs" stroke="#000" stroke-width="0.15">PC1 (46%)</text>
<text x="7.90" y="442.70" font-size="6.8" text-anchor="middle" font-weight="bold" fill="#000" textLength="31.90" lengthAdjust="spacingAndGlyphs" transform="rotate(-90 7.90 442.70)" stroke="#000" stroke-width="0.15">PC2 (30%)</text>
<text x="98.30" y="338.00" font-size="7.3" text-anchor="middle" font-weight="bold" fill="#000" textLength="74.40" lengthAdjust="spacingAndGlyphs" >Macrophage Cultures</text>
<text x="98.30" y="347.20" font-size="7.3" text-anchor="middle" font-weight="bold" fill="#000" textLength="56.10" lengthAdjust="spacingAndGlyphs" >Eicosanoid PCA</text>
<polygon points="88.40,354.66 91.00,359.06 85.80,359.06" fill="#a9441a" stroke="#5a230c" stroke-width="0.6"/>
<polygon points="115.90,354.66 118.50,359.06 113.30,359.06" fill="#a9441a" stroke="#5a230c" stroke-width="0.6"/>
<polygon points="135.60,380.46 138.20,384.86 133.00,384.86" fill="#a9441a" stroke="#5a230c" stroke-width="0.6"/>
<polygon points="160.50,390.36 163.10,394.76 157.90,394.76" fill="#a9441a" stroke="#5a230c" stroke-width="0.6"/>
<polygon points="89.50,418.56 92.10,422.96 86.90,422.96" fill="#a9441a" stroke="#5a230c" stroke-width="0.6"/>
<rect x="35.20" y="435.70" width="3.8" height="3.8" fill="#554f9e" stroke="#2a2760" stroke-width="0.6"/>
<rect x="35.70" y="438.60" width="3.8" height="3.8" fill="#554f9e" stroke="#2a2760" stroke-width="0.6"/>
<rect x="24.10" y="445.80" width="3.8" height="3.8" fill="#554f9e" stroke="#2a2760" stroke-width="0.6"/>
<rect x="35.50" y="449.20" width="3.8" height="3.8" fill="#554f9e" stroke="#2a2760" stroke-width="0.6"/>
<rect x="37.00" y="460.40" width="3.8" height="3.8" fill="#554f9e" stroke="#2a2760" stroke-width="0.6"/>
<circle cx="88.50" cy="495.80" r="1.9" fill="#4a7068" stroke="#1f3532" stroke-width="0.6"/>
<circle cx="88.65" cy="512.50" r="1.9" fill="#4a7068" stroke="#1f3532" stroke-width="0.6"/>
<circle cx="109.70" cy="507.30" r="1.9" fill="#4a7068" stroke="#1f3532" stroke-width="0.6"/>
<circle cx="109.40" cy="522.40" r="1.9" fill="#4a7068" stroke="#1f3532" stroke-width="0.6"/>
<circle cx="170.60" cy="527.50" r="1.9" fill="#4a7068" stroke="#1f3532" stroke-width="0.6"/>
<text x="184.50" y="413.00" font-size="4.6" text-anchor="start" font-weight="bold" fill="#000" textLength="20.40" lengthAdjust="spacingAndGlyphs" stroke="#000" stroke-width="0.15">Condition</text>
<rect x="184.5" y="415.65" width="8" height="7.7" fill="#efefef" stroke="#fafafa" stroke-width="0.4"/>
<circle cx="188.50" cy="419.50" r="1.5" fill="#4a7068" stroke="#1f3532" stroke-width="0.5"/>
<text x="193.80" y="422.10" font-size="7.2" text-anchor="start" font-weight="bold" fill="#151515" textLength="22.70" lengthAdjust="spacingAndGlyphs" >WT-Inf</text>
<rect x="184.5" y="423.35" width="8" height="7.7" fill="#efefef" stroke="#fafafa" stroke-width="0.4"/>
<polygon points="188.50,425.04 190.60,428.64 186.40,428.64" fill="#a9441a" stroke="#5a230c" stroke-width="0.6"/>
<text x="193.80" y="429.80" font-size="7.2" text-anchor="start" font-weight="bold" fill="#151515" textLength="21.90" lengthAdjust="spacingAndGlyphs" >-/- -Inf</text>
<rect x="184.5" y="431.05" width="8" height="7.7" fill="#efefef" stroke="#fafafa" stroke-width="0.4"/>
<rect x="187.00" y="433.40" width="3.0" height="3.0" fill="#554f9e" stroke="#2a2760" stroke-width="0.6"/>
<text x="193.80" y="437.50" font-size="7.2" text-anchor="start" font-weight="bold" fill="#151515" textLength="28.00" lengthAdjust="spacingAndGlyphs" >WT-Thio</text>
<text x="297.00" y="339.60" font-size="12.2" text-anchor="start" font-weight="bold" fill="#000" textLength="8.50" lengthAdjust="spacingAndGlyphs" >C</text>
<line x1="357.50" y1="356.50" x2="357.50" y2="537.50" stroke="#f9f9f9" stroke-width="0.6"/>
<line x1="407.90" y1="356.50" x2="407.90" y2="537.50" stroke="#f9f9f9" stroke-width="0.6"/>
<line x1="458.30" y1="356.50" x2="458.30" y2="537.50" stroke="#f9f9f9" stroke-width="0.6"/>
<line x1="508.70" y1="356.50" x2="508.70" y2="537.50" stroke="#f9f9f9" stroke-width="0.6"/>
<line x1="323.50" y1="390.10" x2="515.50" y2="390.10" stroke="#f9f9f9" stroke-width="0.6"/>
<line x1="323.50" y1="430.10" x2="515.50" y2="430.10" stroke="#f9f9f9" stroke-width="0.6"/>
<line x1="323.50" y1="470.10" x2="515.50" y2="470.10" stroke="#f9f9f9" stroke-width="0.6"/>
<line x1="323.50" y1="510.10" x2="515.50" y2="510.10" stroke="#f9f9f9" stroke-width="0.6"/>
<line x1="332.30" y1="356.50" x2="332.30" y2="537.50" stroke="#f3f3f3" stroke-width="1"/>
<line x1="382.70" y1="356.50" x2="382.70" y2="537.50" stroke="#f3f3f3" stroke-width="1"/>
<line x1="433.10" y1="356.50" x2="433.10" y2="537.50" stroke="#f3f3f3" stroke-width="1"/>
<line x1="483.50" y1="356.50" x2="483.50" y2="537.50" stroke="#f3f3f3" stroke-width="1"/>
<line x1="323.50" y1="370.10" x2="515.50" y2="370.10" stroke="#f3f3f3" stroke-width="1"/>
<line x1="323.50" y1="410.10" x2="515.50" y2="410.10" stroke="#f3f3f3" stroke-width="1"/>
<line x1="323.50" y1="450.10" x2="515.50" y2="450.10" stroke="#f3f3f3" stroke-width="1"/>
<line x1="323.50" y1="490.10" x2="515.50" y2="490.10" stroke="#f3f3f3" stroke-width="1"/>
<line x1="323.50" y1="530.10" x2="515.50" y2="530.10" stroke="#f3f3f3" stroke-width="1"/>
<rect x="323.5" y="356.5" width="192.0" height="181.0" fill="none" stroke="#c8c8c8" stroke-width="1"/>
<line x1="321.00" y1="370.10" x2="323.50" y2="370.10" stroke="#aaa" stroke-width="0.8"/>
<text x="319.20" y="372.50" font-size="6.6" text-anchor="end" font-weight="normal" fill="#2a2a2a" stroke="#2a2a2a" stroke-width="0.2">0.4</text>
<line x1="321.00" y1="410.10" x2="323.50" y2="410.10" stroke="#aaa" stroke-width="0.8"/>
<text x="319.20" y="412.50" font-size="6.6" text-anchor="end" font-weight="normal" fill="#2a2a2a" stroke="#2a2a2a" stroke-width="0.2">0.2</text>
<line x1="321.00" y1="450.10" x2="323.50" y2="450.10" stroke="#aaa" stroke-width="0.8"/>
<text x="319.20" y="452.50" font-size="6.6" text-anchor="end" font-weight="normal" fill="#2a2a2a" stroke="#2a2a2a" stroke-width="0.2">0.0</text>
<line x1="321.00" y1="490.10" x2="323.50" y2="490.10" stroke="#aaa" stroke-width="0.8"/>
<text x="319.20" y="492.50" font-size="6.6" text-anchor="end" font-weight="normal" fill="#2a2a2a" stroke="#2a2a2a" stroke-width="0.2">-0.2</text>
<line x1="321.00" y1="530.10" x2="323.50" y2="530.10" stroke="#aaa" stroke-width="0.8"/>
<text x="319.20" y="532.50" font-size="6.6" text-anchor="end" font-weight="normal" fill="#2a2a2a" stroke="#2a2a2a" stroke-width="0.2">-0.4</text>
<line x1="332.30" y1="537.50" x2="332.30" y2="540.00" stroke="#aaa" stroke-width="0.8"/>
<text x="332.30" y="546.40" font-size="6.6" text-anchor="middle" font-weight="normal" fill="#2a2a2a" stroke="#2a2a2a" stroke-width="0.2">0.1</text>
<line x1="382.70" y1="537.50" x2="382.70" y2="540.00" stroke="#aaa" stroke-width="0.8"/>
<text x="382.70" y="546.40" font-size="6.6" text-anchor="middle" font-weight="normal" fill="#2a2a2a" stroke="#2a2a2a" stroke-width="0.2">0.2</text>
<line x1="433.10" y1="537.50" x2="433.10" y2="540.00" stroke="#aaa" stroke-width="0.8"/>
<text x="433.10" y="546.40" font-size="6.6" text-anchor="middle" font-weight="normal" fill="#2a2a2a" stroke="#2a2a2a" stroke-width="0.2">0.3</text>
<line x1="483.50" y1="537.50" x2="483.50" y2="540.00" stroke="#aaa" stroke-width="0.8"/>
<text x="483.50" y="546.40" font-size="6.6" text-anchor="middle" font-weight="normal" fill="#2a2a2a" stroke="#2a2a2a" stroke-width="0.2">0.4</text>
<text x="420.50" y="554.00" font-size="6.8" text-anchor="middle" font-weight="bold" fill="#000" textLength="11.50" lengthAdjust="spacingAndGlyphs" stroke="#000" stroke-width="0.15">PC1</text>
<text x="308.40" y="447.00" font-size="6.8" text-anchor="middle" font-weight="bold" fill="#000" textLength="11.70" lengthAdjust="spacingAndGlyphs" transform="rotate(-90 308.40 447.00)" stroke="#000" stroke-width="0.15">PC2</text>
<text x="420.50" y="345.10" font-size="7.3" text-anchor="middle" font-weight="bold" fill="#000" textLength="72.30" lengthAdjust="spacingAndGlyphs" >Macrophage Cultures</text>
<text x="421.50" y="354.00" font-size="7.3" text-anchor="middle" font-weight="bold" fill="#000" textLength="88.20" lengthAdjust="spacingAndGlyphs" >Eicosanoid PCA Loadings</text>
<text x="325.00" y="366.40" font-size="5.6" text-anchor="start" font-weight="normal" fill="#000" textLength="65.20" lengthAdjust="spacingAndGlyphs" stroke="#000" stroke-width="0.2">13,14-dihydro-15-keto-PGE2</text>
<circle cx="357.80" cy="364.50" r="0.95" fill="#000" stroke="none" stroke-width="0"/>
<text x="358.70" y="378.60" font-size="5.6" text-anchor="start" font-weight="normal" fill="#000" textLength="25.05" lengthAdjust="spacingAndGlyphs" stroke="#000" stroke-width="0.2">11b-PGF2a</text>
<circle cx="365.10" cy="370.90" r="0.95" fill="#000" stroke="none" stroke-width="0"/>
<text x="404.00" y="373.50" font-size="5.6" text-anchor="start" font-weight="normal" fill="#000" textLength="13.10" lengthAdjust="spacingAndGlyphs" stroke="#000" stroke-width="0.2">PGE2</text>
<circle cx="400.40" cy="375.20" r="0.95" fill="#000" stroke="none" stroke-width="0"/>
<text x="452.30" y="422.20" font-size="5.6" text-anchor="start" font-weight="normal" fill="#000" textLength="15.80" lengthAdjust="spacingAndGlyphs" stroke="#000" stroke-width="0.2">PGF2a</text>
<circle cx="469.60" cy="422.70" r="0.95" fill="#000" stroke="none" stroke-width="0"/>
<text x="475.80" y="425.10" font-size="5.6" text-anchor="start" font-weight="normal" fill="#000" textLength="11.90" lengthAdjust="spacingAndGlyphs" stroke="#000" stroke-width="0.2">TxB2</text>
<circle cx="474.80" cy="423.50" r="0.95" fill="#000" stroke="none" stroke-width="0"/>
<text x="443.50" y="441.40" font-size="5.6" text-anchor="start" font-weight="normal" fill="#000" textLength="23.60" lengthAdjust="spacingAndGlyphs" stroke="#000" stroke-width="0.2">17-HDoHE</text>
<circle cx="444.60" cy="441.30" r="0.95" fill="#000" stroke="none" stroke-width="0"/>
<text x="429.40" y="476.90" font-size="5.6" text-anchor="start" font-weight="normal" fill="#000" textLength="18.30" lengthAdjust="spacingAndGlyphs" stroke="#000" stroke-width="0.2">15-HETE</text>
<circle cx="449.20" cy="476.80" r="0.95" fill="#000" stroke="none" stroke-width="0"/>
<text x="462.30" y="473.70" font-size="5.6" text-anchor="start" font-weight="normal" fill="#000" textLength="31.20" lengthAdjust="spacingAndGlyphs" stroke="#000" stroke-width="0.2">6-keto PGF1a</text>
<circle cx="462.80" cy="473.10" r="0.95" fill="#000" stroke="none" stroke-width="0"/>
<text x="387.30" y="491.90" font-size="5.6" text-anchor="start" font-weight="normal" fill="#000" textLength="64.50" lengthAdjust="spacingAndGlyphs" stroke="#000" stroke-width="0.2">13,14-dihydro-15-keto-PGD2</text>
<circle cx="426.20" cy="486.80" r="0.95" fill="#000" stroke="none" stroke-width="0"/>
<text x="349.00" y="519.10" font-size="5.6" text-anchor="start" font-weight="normal" fill="#000" textLength="12.20" lengthAdjust="spacingAndGlyphs" stroke="#000" stroke-width="0.2">LXA4</text>
<circle cx="369.80" cy="517.90" r="0.95" fill="#000" stroke="none" stroke-width="0"/>
<text x="396.20" y="523.50" font-size="5.6" text-anchor="start" font-weight="normal" fill="#000" textLength="23.80" lengthAdjust="spacingAndGlyphs" stroke="#000" stroke-width="0.2">18-HDoHE</text>
<circle cx="399.40" cy="519.20" r="0.95" fill="#000" stroke="none" stroke-width="0"/>
<text x="383.20" y="532.80" font-size="5.6" text-anchor="start" font-weight="normal" fill="#000" textLength="19.90" lengthAdjust="spacingAndGlyphs" stroke="#000" stroke-width="0.2">12-HETE</text>
<circle cx="384.80" cy="528.60" r="0.95" fill="#000" stroke="none" stroke-width="0"/>
</svg>
</body></html>
